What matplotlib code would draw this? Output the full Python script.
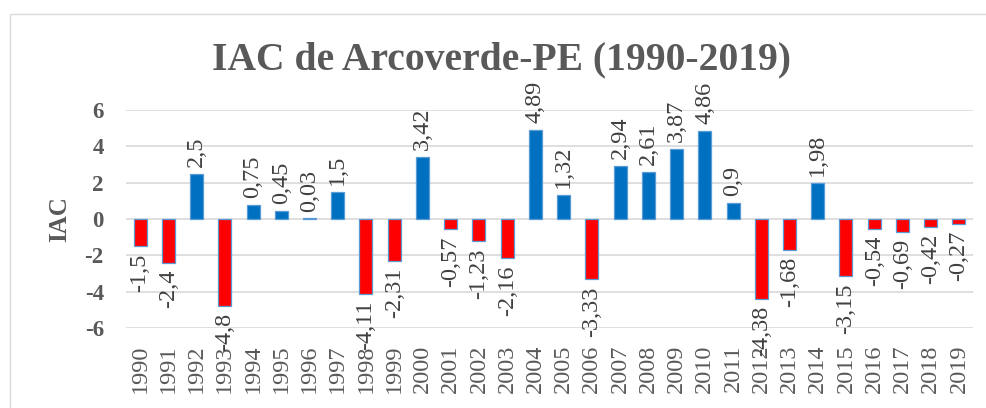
import matplotlib
matplotlib.use("Agg")
import matplotlib.pyplot as plt
from matplotlib.patches import Rectangle

years = [str(y) for y in range(1990, 2020)]
iac = [-1.5, -2.4, 2.5, -4.8, 0.75, 0.45, 0.03, 1.5, -4.11, -2.31,
       3.42, -0.57, -1.23, -2.16, 4.89, 1.32, -3.33, 2.94, 2.61, 3.87,
       4.86, 0.9, -4.38, -1.68, 1.98, -3.15, -0.54, -0.69, -0.42, -0.27]
yticks = [-6, -4, -2, 0, 2, 4, 6]

title = "IAC de Arcoverde-PE (1990-2019)"
ylabel = "IAC"

GRAY = "#595959"
GRID = "#D9D9D9"
BLUE = "#0070C0"
RED = "#FF0000"
EDGE = "#5B9BD5"
SERIF = ["Liberation Serif", "DejaVu Serif"]

W, H = 987, 408
fig = plt.figure(figsize=(W / 100, H / 100), dpi=100)

# chart border
fig.patches.append(Rectangle((9.5 / W, -0.1), 1.2, 1 - 13.5 / H + 0.1,
                             transform=fig.transFigure, fill=False,
                             edgecolor=GRID, linewidth=1.0))

ax = fig.add_axes([126 / W, 1 - 328 / H, (973 - 126) / W, (328 - 110) / H])
x = list(range(len(years)))
colors = [BLUE if v >= 0 else RED for v in iac]
ax.bar(x, iac, width=0.46, color=colors, edgecolor=EDGE, linewidth=0.9, zorder=3)

ax.set_xlim(-0.5, len(years) - 0.5)
ax.set_ylim(-6, 6)
ax.set_yticks(yticks)
ax.set_yticklabels([str(t) for t in yticks], fontfamily=SERIF,
                   fontweight="bold", fontsize=16.5, color=GRAY)
ax.set_xticks(x)
ax.set_xticklabels(years, rotation=90, fontfamily=SERIF, fontsize=17.5,
                   color=GRAY)
ax.tick_params(axis="x", length=0, pad=12)
ax.tick_params(axis="y", length=0, pad=16)
ax.grid(axis="y", color=GRID, linewidth=1.2, zorder=0)
for s in ax.spines.values():
    s.set_visible(False)

for xi, v in zip(x, iac):
    lab = f"{v:g}".replace(".", ",")
    if v >= 0:
        ax.annotate(lab, (xi, v), xytext=(0, 5), textcoords="offset points",
                    rotation=90, ha="center", va="bottom", fontsize=17.5,
                    fontfamily=SERIF, color="#404040")
    else:
        ax.annotate(lab, (xi, v), xytext=(0, -5), textcoords="offset points",
                    rotation=90, ha="center", va="top", fontsize=17.5,
                    fontfamily=SERIF, color="#404040")

ax.set_ylabel(ylabel, fontfamily=SERIF, fontweight="bold", fontsize=18,
              color=GRAY, labelpad=10)

fig.text(502 / W, 1 - 69 / H, title, ha="center", va="baseline",
         fontfamily=SERIF, fontweight="bold", fontsize=28.5, color=GRAY)

fig.savefig("out.png", dpi=100)
